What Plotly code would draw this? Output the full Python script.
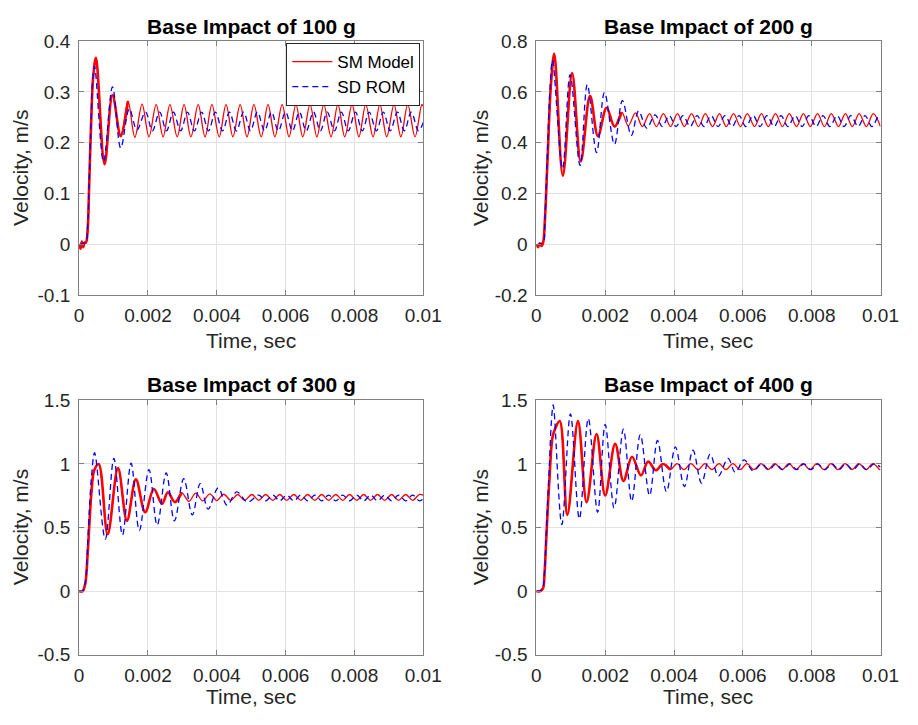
import plotly.graph_objects as go

# ---------------- data ----------------
x_ticks = [0, 0.002, 0.004, 0.006, 0.008, 0.01]
x_ticktext = ["0", "0.002", "0.004", "0.006", "0.008", "0.01"]

titles = ["Base Impact of 100 g", "Base Impact of 200 g",
          "Base Impact of 300 g", "Base Impact of 400 g"]
y_ranges = [[-0.1, 0.4], [-0.2, 0.8], [-0.5, 1.5], [-0.5, 1.5]]
y_ticks = [[-0.1, 0, 0.1, 0.2, 0.3, 0.4],
           [-0.2, 0, 0.2, 0.4, 0.6, 0.8],
           [-0.5, 0, 0.5, 1, 1.5],
           [-0.5, 0, 0.5, 1, 1.5]]
y_ticktext = [["-0.1", "0", "0.1", "0.2", "0.3", "0.4"],
              ["-0.2", "0", "0.2", "0.4", "0.6", "0.8"],
              ["-0.5", "0", "0.5", "1", "1.5"],
              ["-0.5", "0", "0.5", "1", "1.5"]]
series_names = ["SM Model", "SD ROM"]

# ---- 100 g ----
t_sm_100 = [0, 0.00004, 0.00008, 0.00012, 0.00016, 0.0002, 0.00025, 0.00029, 0.00035, 0.00041,
            0.00049, 0.00074, 0.00097, 0.00121, 0.00142, 0.00162, 0.00183,
            0.00203, 0.00224, 0.00244, 0.00264, 0.00285, 0.00305, 0.00325, 0.00346, 0.00366, 0.00386,
            0.00407, 0.00427, 0.00447, 0.00468, 0.00488, 0.00508, 0.00529, 0.00549, 0.00569, 0.00590,
            0.00610, 0.00630, 0.00650, 0.00671, 0.00691, 0.00711, 0.00732, 0.00752, 0.00772, 0.00793,
            0.00813, 0.00833, 0.00854, 0.00874, 0.00894, 0.00915, 0.00935, 0.00955, 0.00976, 0.00996,
            0.01]
v_sm_100 = [0, -0.008, 0.006, -0.005, 0.004, 0.004, 0.03, 0.11, 0.24, 0.33,
            0.367, 0.158, 0.294, 0.213, 0.282, 0.211, 0.276,
            0.212, 0.275, 0.212, 0.275, 0.212, 0.275, 0.212, 0.275, 0.212, 0.275,
            0.212, 0.275, 0.212, 0.275, 0.212, 0.275, 0.212, 0.275, 0.212, 0.275,
            0.212, 0.275, 0.212, 0.275, 0.212, 0.275, 0.212, 0.275, 0.212, 0.275,
            0.212, 0.275, 0.212, 0.275, 0.212, 0.275, 0.212, 0.275, 0.212, 0.275,
            0.272]
t_rom_100 = [0, 0.0001, 0.0002, 0.00025, 0.00029, 0.00035, 0.0004, 0.00045, 0.00071, 0.00097,
             0.00121, 0.00146, 0.00168, 0.00193,
             0.00213, 0.00234, 0.00254, 0.00274, 0.00295, 0.00315, 0.00335, 0.00356, 0.00376, 0.00396,
             0.00417, 0.00437, 0.00457, 0.00478, 0.00498, 0.00518, 0.00539, 0.00559, 0.00579, 0.00600,
             0.00620, 0.00640, 0.00660, 0.00681, 0.00701, 0.00721, 0.00742, 0.00762, 0.00782, 0.00803,
             0.00823, 0.00843, 0.00864, 0.00884, 0.00904, 0.00925, 0.00945, 0.00965, 0.00986,
             0.01]
v_rom_100 = [0, 0.002, 0.006, 0.04, 0.12, 0.25, 0.33, 0.35, 0.163, 0.31,
             0.19, 0.267, 0.2255, 0.2605,
             0.2235, 0.2605, 0.2235, 0.2605, 0.2235, 0.2605, 0.2235, 0.2605, 0.2235, 0.2605,
             0.2235, 0.2605, 0.2235, 0.2605, 0.2235, 0.2605, 0.2235, 0.2605, 0.2235, 0.2605,
             0.2235, 0.2605, 0.2235, 0.2605, 0.2235, 0.2605, 0.2235, 0.2605, 0.2235, 0.2605,
             0.2235, 0.2605, 0.2235, 0.2605, 0.2235, 0.2605, 0.2235, 0.2605, 0.2235,
             0.24]

# ---- 200 g ----
t_sm_200 = [0, 0.00005, 0.0001, 0.00015, 0.0002, 0.00025, 0.00033, 0.00042, 0.00052, 0.00077,
            0.00104, 0.00129, 0.00156, 0.00179, 0.00204, 0.00227, 0.00248, 0.00267, 0.00288,
            0.00308, 0.00329, 0.00349, 0.00369, 0.00390, 0.00410, 0.00430, 0.00451, 0.00471, 0.00491,
            0.00512, 0.00532, 0.00552, 0.00573, 0.00593, 0.00613, 0.00634, 0.00654, 0.00674, 0.00695,
            0.00715, 0.00735, 0.00756, 0.00776, 0.00796, 0.00817, 0.00837, 0.00857, 0.00878, 0.00898,
            0.00918, 0.00938, 0.00959, 0.00979, 0.01]
v_sm_200 = [0, -0.01, 0.005, -0.005, 0.01, 0.1, 0.35, 0.62, 0.75, 0.271,
            0.674, 0.327, 0.585, 0.426, 0.538, 0.464, 0.521, 0.467, 0.518,
            0.464, 0.515, 0.464, 0.515, 0.464, 0.515, 0.464, 0.515, 0.464, 0.515,
            0.464, 0.515, 0.464, 0.515, 0.464, 0.515, 0.464, 0.515, 0.464, 0.515,
            0.464, 0.515, 0.464, 0.515, 0.464, 0.515, 0.464, 0.515, 0.464, 0.515,
            0.464, 0.515, 0.464, 0.515, 0.464]
t_rom_200 = [0, 0.0001, 0.0002, 0.00025, 0.00032, 0.0004, 0.00047, 0.00076, 0.00098, 0.00127,
             0.00148, 0.00175, 0.00198, 0.00227, 0.0025, 0.00276, 0.00297, 0.00321, 0.00345,
             0.00366, 0.00386, 0.00406, 0.00426, 0.00447, 0.00467, 0.00487, 0.00508, 0.00528, 0.00548,
             0.00569, 0.00589, 0.00609, 0.00630, 0.00650, 0.00670, 0.00691, 0.00711, 0.00731, 0.00752,
             0.00772, 0.00792, 0.00813, 0.00833, 0.00853, 0.00874, 0.00894, 0.00914, 0.00935, 0.00955,
             0.00975, 0.00995, 0.01]
v_rom_200 = [0, 0.003, 0.01, 0.11, 0.36, 0.62, 0.725, 0.299, 0.668, 0.311,
             0.629, 0.362, 0.598, 0.394, 0.566, 0.429, 0.525, 0.458, 0.51,
             0.464, 0.507, 0.464, 0.507, 0.464, 0.507, 0.464, 0.507, 0.464, 0.507,
             0.464, 0.507, 0.464, 0.507, 0.464, 0.507, 0.464, 0.507, 0.464, 0.507,
             0.464, 0.507, 0.464, 0.507, 0.464, 0.507, 0.464, 0.507, 0.464, 0.507,
             0.464, 0.507, 0.505]

# ---- 300 g ----
t_sm_300 = [0, 0.0001, 0.00018, 0.00025, 0.00031, 0.00036, 0.00044, 0.00057, 0.00083, 0.00113,
            0.00139, 0.00165, 0.00192, 0.00217, 0.00241,
            0.00258, 0.00278, 0.00298, 0.00319, 0.00339, 0.00359, 0.00380, 0.00400, 0.00420, 0.00441,
            0.00461, 0.00481, 0.00502, 0.00522, 0.00542, 0.00563, 0.00583, 0.00603, 0.00624, 0.00644,
            0.00664, 0.00685, 0.00705, 0.00725, 0.00746, 0.00766, 0.00786, 0.00807, 0.00827, 0.00847,
            0.00867, 0.00888, 0.00908, 0.00928, 0.00949, 0.00969, 0.00989, 0.01]
v_sm_300 = [0, 0, 0.06, 0.3, 0.58, 0.78, 0.95, 1.0, 0.447, 0.968,
            0.553, 0.879, 0.62, 0.803, 0.688,
            0.777, 0.70, 0.775, 0.706, 0.77, 0.71, 0.765, 0.712, 0.762, 0.714,
            0.76, 0.714, 0.76, 0.714, 0.76, 0.714, 0.76, 0.714, 0.76, 0.714,
            0.76, 0.714, 0.76, 0.714, 0.76, 0.714, 0.76, 0.714, 0.76, 0.714,
            0.76, 0.714, 0.76, 0.714, 0.76, 0.714, 0.76, 0.755]
t_rom_300 = [0, 0.0001, 0.00018, 0.00024, 0.0003, 0.00036, 0.00045, 0.00076, 0.00101, 0.00126,
             0.00151, 0.00175, 0.00203, 0.00227, 0.00253, 0.00277, 0.00304, 0.00329, 0.00352, 0.00375,
             0.00404, 0.0043, 0.00458, 0.0049,
             0.00522, 0.00542, 0.00563, 0.00583, 0.00603, 0.00624, 0.00644, 0.00664, 0.00685, 0.00705,
             0.00725, 0.00746, 0.00766, 0.00786, 0.00807, 0.00827, 0.00847, 0.00867, 0.00888, 0.00908,
             0.00928, 0.00949, 0.00969, 0.00989, 0.01]
v_rom_300 = [0, 0, 0.07, 0.33, 0.65, 0.9, 1.088, 0.408, 1.044, 0.441,
             1.006, 0.477, 0.956, 0.518, 0.93, 0.553, 0.884, 0.599, 0.846, 0.645,
             0.811, 0.676, 0.78, 0.70,
             0.755, 0.71, 0.755, 0.71, 0.755, 0.71, 0.755, 0.71, 0.755, 0.71,
             0.755, 0.71, 0.755, 0.71, 0.755, 0.71, 0.755, 0.71, 0.755, 0.71,
             0.755, 0.71, 0.755, 0.71, 0.725]

# ---- 400 g ----
t_sm_400 = [0, 0.0001, 0.00019, 0.00024, 0.00028, 0.00033, 0.00038, 0.00047, 0.00055, 0.00068,
            0.0009, 0.00121, 0.00146, 0.00175, 0.002, 0.00229, 0.00253, 0.00278, 0.00304, 0.00325,
            0.00347, 0.00368,
            0.00389, 0.00409, 0.00429, 0.00449, 0.00470, 0.00490, 0.00510, 0.00531, 0.00551, 0.00571,
            0.00592, 0.00612, 0.00632, 0.00653, 0.00673, 0.00693, 0.00714, 0.00734, 0.00754, 0.00775,
            0.00795, 0.00815, 0.00836, 0.00856, 0.00876, 0.00897, 0.00917, 0.00937, 0.00958, 0.00978,
            0.00998, 0.01]
v_sm_400 = [0, 0, 0.02, 0.15, 0.37, 0.64, 0.88, 1.21, 1.28, 1.337,
            0.60, 1.337, 0.70, 1.235, 0.752, 1.159, 0.866, 1.057, 0.91, 1.019,
            0.95, 1.0,
            0.955, 1.003, 0.955, 1.003, 0.955, 1.003, 0.955, 1.003, 0.955, 1.003,
            0.955, 1.003, 0.955, 1.003, 0.955, 1.003, 0.955, 1.003, 0.955, 1.003,
            0.955, 1.003, 0.955, 1.003, 0.955, 1.003, 0.955, 1.003, 0.955, 1.003,
            0.955, 0.957]
t_rom_400 = [0, 0.0001, 0.00019, 0.00024, 0.00028, 0.00033, 0.00038, 0.00043, 0.00049, 0.00074,
             0.00099, 0.00125, 0.00151, 0.00178, 0.002, 0.00226, 0.00253, 0.00277, 0.00302, 0.00329,
             0.00352, 0.00378, 0.00404, 0.0043, 0.00455, 0.0048, 0.00505, 0.00529, 0.00557, 0.00578,
             0.00604, 0.0063,
             0.00655, 0.00676, 0.00696, 0.00716, 0.00737, 0.00757, 0.00777, 0.00798, 0.00818, 0.00838,
             0.00859, 0.00879, 0.00899, 0.00920, 0.00940, 0.00960, 0.00981, 0.01]
v_rom_400 = [0, 0, 0.03, 0.16, 0.4, 0.72, 1.0, 1.3, 1.464, 0.523,
             1.393, 0.569, 1.357, 0.62, 1.311, 0.655, 1.273, 0.706, 1.231, 0.752,
             1.185, 0.782, 1.134, 0.823, 1.108, 0.849, 1.078, 0.905, 1.044, 0.935,
             1.032, 0.945,
             1.0, 0.955, 1.0, 0.955, 1.0, 0.955, 1.0, 0.955, 1.0, 0.955,
             1.0, 0.955, 1.0, 0.955, 1.0, 0.955, 1.0, 0.975]

sm_t = [t_sm_100, t_sm_200, t_sm_300, t_sm_400]
sm_v = [v_sm_100, v_sm_200, v_sm_300, v_sm_400]
rom_t = [t_rom_100, t_rom_200, t_rom_300, t_rom_400]
rom_v = [v_rom_100, v_rom_200, v_rom_300, v_rom_400]
# time up to which the SM trace looks heavy (noisy) in the picture
heavy_until = [0.0015, 0.0025, 0.0031, 0.0039]

# ---------------- layout geometry ----------------
W, H = 918, 725
col_px = [(76, 429), (545, 898)]
row_px = [(32, 294), (402, 664)]
FONT = "Liberation Sans, Arial, Helvetica, sans-serif"
TXT = "#262626"
AXC = "#808080"
GRID = "#e2e2e2"

fig = go.Figure()
layout = dict(width=W, height=H, margin=dict(l=0, r=0, t=0, b=0),
              paper_bgcolor="white", plot_bgcolor="white",
              font=dict(family=FONT, color=TXT, size=19),
              annotations=[])

for i in range(4):
    r, c = divmod(i, 2)
    x0, x1 = col_px[c]
    y0, y1 = row_px[r]
    xd = [x0 / W, x1 / W]
    yd = [1 - y1 / H, 1 - y0 / H]
    sfx = "" if i == 0 else str(i + 1)
    xa, ya = "x" + sfx, "y" + sfx
    common = dict(showline=True, linecolor=AXC, linewidth=1, mirror="ticks",
                  ticks="inside", ticklen=5, tickcolor=AXC, tickwidth=1,
                  showgrid=True, gridcolor=GRID, gridwidth=1, zeroline=False,
                  tickfont=dict(family=FONT, size=19, color=TXT))
    layout["xaxis" + sfx] = dict(domain=xd, anchor=ya, range=[0, 0.01],
                                 tickvals=x_ticks, ticktext=x_ticktext,
                                 ticklabelstandoff=3, **common)
    layout["yaxis" + sfx] = dict(domain=yd, anchor=xa, range=y_ranges[i],
                                 tickvals=y_ticks[i], ticktext=y_ticktext[i],
                                 ticklabelstandoff=4, **common)

    # red SM model
    fig.add_trace(go.Scatter(x=sm_t[i], y=sm_v[i], mode="lines", name=series_names[0],
                             legendgroup="sm", showlegend=(i == 0),
                             line=dict(color="#ff0000", width=1.3, shape="spline", smoothing=1),
                             xaxis=xa, yaxis=ya))
    # heavy early part of SM model
    ht = [t for t in sm_t[i] if t <= heavy_until[i]]
    hv = sm_v[i][:len(ht)]
    fig.add_trace(go.Scatter(x=ht, y=hv, mode="lines", showlegend=False, legendgroup="sm",
                             line=dict(color="#ff0000", width=2.6, shape="spline", smoothing=1),
                             xaxis=xa, yaxis=ya, hoverinfo="skip"))
    # blue SD ROM
    fig.add_trace(go.Scatter(x=rom_t[i], y=rom_v[i], mode="lines", name=series_names[1],
                             legendgroup="rom", showlegend=(i == 0),
                             line=dict(color="#0000ff", width=1.3, dash="6px,4px",
                                       shape="spline", smoothing=1),
                             xaxis=xa, yaxis=ya))

    xc = (x0 + x1) / 2 / W
    title_y = [17, 386][r]
    layout["annotations"].append(dict(
        text="<b>" + titles[i] + "</b>", x=xc, y=1 - title_y / H, xref="paper", yref="paper",
        xanchor="center", yanchor="middle", showarrow=False,
        font=dict(family=FONT, size=21, color="#000000")))
    xl_y = [340, 707][r]
    layout["annotations"].append(dict(
        text="Time, sec", x=xc, y=1 - xl_y / H, xref="paper", yref="paper",
        xanchor="center", yanchor="middle", showarrow=False,
        font=dict(family=FONT, size=21, color=TXT)))
    yl_x = [16, 488][c]
    layout["annotations"].append(dict(
        text="Velocity, m/s", x=yl_x / W, y=1 - (y0 + y1) / 2 / H, xref="paper", yref="paper",
        xanchor="center", yanchor="middle", textangle=-90, showarrow=False,
        font=dict(family=FONT, size=21, color=TXT)))

layout["legend"] = dict(x=426 / W, y=1 - 34 / H, xanchor="right", yanchor="top",
                        bgcolor="white", bordercolor="#262626", borderwidth=1,
                        font=dict(family=FONT, size=17, color="#000000"),
                        tracegroupgap=0, itemwidth=40)
fig.update_layout(**layout)
fig.write_html("out.html")
